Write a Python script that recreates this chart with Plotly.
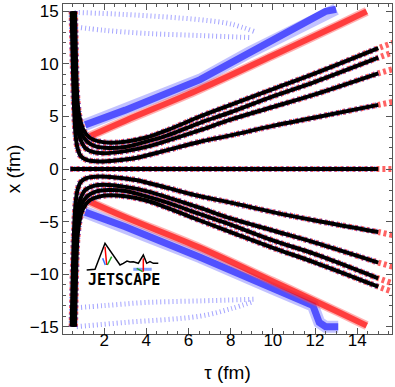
import plotly.graph_objects as go

# black trajectories (upper half), tau in fm, x in fm
tau_a = [0.46, 0.50, 0.54, 0.58, 0.65, 0.75, 0.9, 1.2, 1.8, 2.5, 3.5, 5.0, 6.55, 8.0, 10.0, 12.0, 15.0]
x_a = [15.0, 11.0, 8.0, 5.5, 3.2, 1.9, 1.2, 0.85, 0.72, 0.8, 1.05, 1.8, 2.6, 3.2, 4.1, 4.9, 6.1]
tau_b = [0.52, 0.56, 0.60, 0.65, 0.75, 0.9, 1.1, 1.5, 2.0, 3.0, 4.0, 5.0, 6.55, 8.0, 10.0, 12.0, 15.0]
x_b = [15.0, 11.0, 8.0, 5.8, 3.8, 2.7, 2.0, 1.6, 1.5, 1.7, 2.1, 2.7, 3.7, 4.7, 5.9, 7.1, 9.1]
tau_c = [0.57, 0.61, 0.65, 0.70, 0.8, 0.95, 1.2, 1.6, 2.2, 3.0, 4.0, 5.0, 6.55, 8.0, 10.0, 12.0, 15.0]
x_c = [15.0, 11.0, 8.0, 6.0, 4.3, 3.3, 2.6, 2.15, 2.0, 2.1, 2.6, 3.2, 4.4, 5.4, 6.9, 8.3, 10.6]
tau_d = [0.62, 0.66, 0.70, 0.75, 0.85, 1.0, 1.3, 1.8, 2.3, 3.0, 4.0, 5.0, 6.55, 8.0, 10.0, 12.0, 15.0]
x_d = [15.0, 11.0, 8.0, 6.2, 4.8, 3.8, 3.0, 2.6, 2.5, 2.6, 3.0, 3.7, 5.0, 6.1, 7.6, 9.1, 11.5]

# lower half
x_a_low = [-15.0, -11.0, -8.0, -5.5, -3.2, -1.9, -1.2, -0.85, -0.72, -0.8, -1.05, -1.8, -2.6, -3.2, -4.1, -4.9, -6.0]
x_b_low = [-15.0, -11.0, -8.0, -5.8, -3.8, -2.7, -2.0, -1.6, -1.5, -1.7, -2.1, -2.7, -3.7, -4.7, -5.85, -7.0, -8.9]
x_c_low = [-15.0, -11.0, -8.0, -6.0, -4.3, -3.3, -2.6, -2.15, -2.0, -2.1, -2.6, -3.2, -4.3, -5.3, -6.8, -8.1, -10.4]
x_d_low = [-15.0, -11.0, -8.0, -6.2, -4.8, -3.8, -3.0, -2.6, -2.5, -2.6, -3.0, -3.7, -4.9, -6.0, -7.5, -8.9, -11.2]

# end points of the red dashed copies past tau = 15
tau_end = 15.7
x_end_up = [6.4, 9.5, 11.1, 12.0]
x_end_low = [-6.3, -9.3, -10.9, -11.7]

tau_zero = [0.4, 15.0]
x_zero = [0.0, 0.0]

# outer red and blue bands
tau_red = [1.3, 3.0, 6.55, 10.0, 13.2, 14.45]
x_red_up = [3.1, 4.6, 7.6, 10.8, 13.8, 15.0]
x_red_low = [-3.1, -4.6, -7.5, -10.7, -13.7, -14.9]
tau_blue_up = [1.1, 3.0, 6.55, 8.9, 11.3, 12.1, 12.5, 13.0]
x_blue_up = [4.2, 5.6, 8.5, 11.1, 13.6, 14.5, 15.0, 15.2]
tau_blue_low = [1.1, 3.0, 6.55, 10.0, 11.9, 12.2, 12.5, 13.1]
x_blue_low = [-4.1, -5.5, -8.4, -11.4, -13.0, -14.6, -15.0, -15.0]

# faint blue dotted curves near the edges
tau_f1 = [0.6, 3.0, 6.55, 8.0, 9.1]
x_f1 = [14.9, 14.7, 14.2, 13.8, 13.1]
tau_f2 = [0.7, 2.0, 4.0, 6.55, 9.0]
x_f2 = [13.5, 13.2, 12.9, 12.7, 12.5]
tau_f3 = [0.7, 3.0, 6.55, 8.0, 9.1]
x_f3 = [-15.0, -14.6, -14.0, -13.3, -12.6]
tau_f4 = [0.7, 2.0, 4.0, 6.55, 9.1]
x_f4 = [-13.2, -13.0, -12.7, -12.55, -12.4]

fig = go.Figure()

def add_line(x, y, color, width, dash="solid", shape="spline"):
    fig.add_trace(go.Scatter(x=x, y=y, mode="lines", showlegend=False, hoverinfo="skip",
                             line=dict(color=color, width=width, dash=dash, shape=shape)))

# faint dotted curves
for t, v in [(tau_f1, x_f1), (tau_f2, x_f2), (tau_f3, x_f3), (tau_f4, x_f4)]:
    add_line(t, v, "rgba(90,90,255,0.55)", 5, "1px,3px")

# bands: light halo plus denser core
add_line(tau_blue_up, x_blue_up, "rgba(80,80,255,0.35)", 12, "solid", "linear")
add_line(tau_blue_low, x_blue_low, "rgba(80,80,255,0.35)", 12, "solid", "linear")
add_line(tau_blue_up, x_blue_up, "rgba(20,20,255,0.65)", 7, "solid", "linear")
add_line(tau_blue_low, x_blue_low, "rgba(20,20,255,0.65)", 7, "solid", "linear")
add_line(tau_red, x_red_up, "rgba(255,80,80,0.45)", 9, "solid")
add_line(tau_red, x_red_low, "rgba(255,80,80,0.45)", 9, "solid")
add_line(tau_red, x_red_up, "rgba(255,0,0,0.65)", 6, "solid")
add_line(tau_red, x_red_low, "rgba(255,0,0,0.65)", 6, "solid")

curves = [(tau_a, x_a, x_a_low, 0), (tau_b, x_b, x_b_low, 1),
          (tau_c, x_c, x_c_low, 2), (tau_d, x_d, x_d_low, 3)]

# red / blue dashed copies under the black lines
for t, up, low, i in curves:
    add_line(t + [tau_end], up + [x_end_up[i]], "rgba(255,60,60,0.8)", 6, "3px,3px")
    add_line(t + [tau_end], low + [x_end_low[i]], "rgba(255,60,60,0.8)", 6, "3px,3px")
    add_line(t, up, "rgba(60,60,255,0.7)", 6, "1px,3px")
    add_line(t, low, "rgba(60,60,255,0.7)", 6, "1px,3px")
add_line(tau_zero + [tau_end], x_zero + [0.0], "rgba(255,60,60,0.8)", 6, "3px,3px", "linear")
add_line(tau_zero, x_zero, "rgba(60,60,255,0.7)", 6, "1px,3px", "linear")

# black lines
for t, up, low, i in curves:
    add_line(t, up, "black", 4)
    add_line(t, low, "black", 4)
add_line(tau_zero, x_zero, "black", 4, "solid", "linear")

# JETSCAPE logo, drawn in pixel positions converted to paper coords
def px(xs, ys):
    return [((a - 63) / 329, (334 - b) / 330) for a, b in zip(xs, ys)]

def path(pts):
    return "M " + " L ".join(f"{a:.4f},{b:.4f}" for a, b in pts)

logo = [
    ([86.7, 95, 105, 120, 123.3, 127, 130, 133.3, 138.3, 143.3, 146.7, 150, 153.3, 158.3],
     [270, 269.3, 243.3, 265, 263.3, 261, 262, 261.7, 263.3, 255, 263.3, 261.7, 263.3, 263.3], "black", 1.5),
    ([105, 106.7], [246.7, 265], "red", 1.5),
    ([102.7, 105.3], [258.3, 265], "#3070ff", 1.5),
    ([107.3, 111.7], [265, 256.7], "#20a020", 1.5),
    ([133.3, 151.7], [269.3, 269.3], "rgba(80,120,255,0.7)", 3),
    ([136.7, 142.7], [268.3, 271.7], "#20a020", 1.5),
    ([143.3, 143.3], [258.3, 271.7], "red", 1.5),
]
shapes = []
for xs, ys, c, w in logo:
    shapes.append(dict(type="path", xref="paper", yref="paper", path=path(px(xs, ys)),
                       line=dict(color=c, width=w)))

fig.add_annotation(x=(123.5 - 63) / 329, y=(334 - 280) / 330, xref="paper", yref="paper",
                   xanchor="center", yanchor="middle",
                   text="<b>JETSCAPE</b>", showarrow=False,
                   font=dict(family="DejaVu Sans Mono", size=15, color="black"))

axis_common = dict(showgrid=False, zeroline=False, showline=True, mirror="ticks",
                   linecolor="#555", linewidth=1, ticks="inside", tickcolor="#555",
                   ticklen=6, tickfont=dict(size=17, color="black"), automargin=False)

fig.update_layout(
    width=395, height=387,
    margin=dict(l=63, r=3, t=4, b=53),
    plot_bgcolor="white", paper_bgcolor="white",
    font=dict(family="Liberation Sans", color="black"),
    shapes=shapes,
    xaxis=dict(range=[0.05, 15.65], tickvals=[2, 4, 6, 8, 10, 12, 14],
               minor=dict(ticks="inside", dtick=0.5, tick0=0, ticklen=3, tickcolor="#555"),
               title=dict(text="τ (fm)", font=dict(size=19), standoff=16),
               ticklabelstandoff=-9,
               **axis_common),
    yaxis=dict(range=[-15.7, 15.7], tickvals=[-15, -10, -5, 0, 5, 10, 15],
               minor=dict(ticks="inside", dtick=1, tick0=0, ticklen=3, tickcolor="#555"),
               title=dict(text="x (fm)", font=dict(size=19), standoff=4),
               **axis_common),
)

fig.write_html("out.html", config={"displayModeBar": False},
               post_script="document.body.style.margin='0px';")
